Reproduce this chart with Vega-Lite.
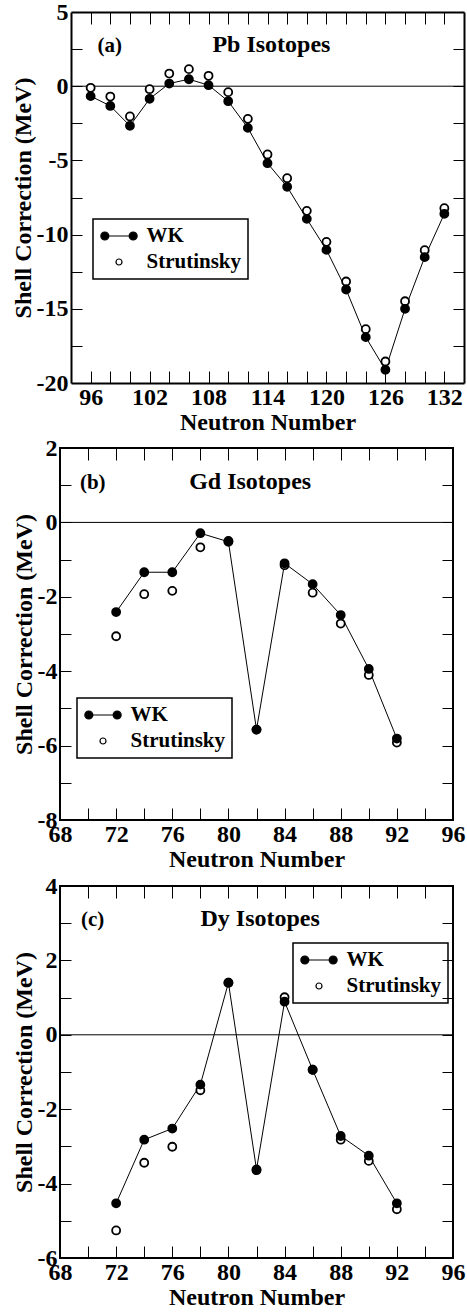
{
  "$schema": "https://vega.github.io/schema/vega-lite/v6.json",
  "padding": {"left": 11, "top": 0, "right": 0, "bottom": 0},
  "background": "white",
  "config": {
    "font": "Liberation Serif",
    "view": {"stroke": "black", "strokeWidth": 2},
    "axis": {
      "domain": false,
      "domainColor": "black",
      "domainWidth": 2,
      "grid": false,
      "labelFont": "Liberation Serif",
      "labelFontSize": 24,
      "labelFontWeight": "bold",
      "labelColor": "black",
      "labelFlush": false,
      "labelOverlap": false,
      "labelBound": false,
      "titleFont": "Liberation Serif",
      "titleFontSize": 24,
      "titleFontWeight": "bold",
      "titleColor": "black",
      "titlePadding": 1
    },
    "legend": {
      "orient": "none",
      "padding": 6.5,
      "strokeColor": "black",
      "strokeWidth": 1.5,
      "labelFont": "Liberation Serif",
      "labelFontSize": 21,
      "labelFontWeight": "bold",
      "labelColor": "black",
      "symbolSize": 64,
      "rowPadding": 4
    }
  },
  "data": {
    "values": [
      {"iso": "Pb", "n": 96, "series": "Strutinsky", "v": -0.11},
      {"iso": "Pb", "n": 98, "series": "Strutinsky", "v": -0.7},
      {"iso": "Pb", "n": 100, "series": "Strutinsky", "v": -2.04},
      {"iso": "Pb", "n": 102, "series": "Strutinsky", "v": -0.2},
      {"iso": "Pb", "n": 104, "series": "Strutinsky", "v": 0.85},
      {"iso": "Pb", "n": 106, "series": "Strutinsky", "v": 1.15},
      {"iso": "Pb", "n": 108, "series": "Strutinsky", "v": 0.7},
      {"iso": "Pb", "n": 110, "series": "Strutinsky", "v": -0.4},
      {"iso": "Pb", "n": 112, "series": "Strutinsky", "v": -2.2},
      {"iso": "Pb", "n": 114, "series": "Strutinsky", "v": -4.6},
      {"iso": "Pb", "n": 116, "series": "Strutinsky", "v": -6.2},
      {"iso": "Pb", "n": 118, "series": "Strutinsky", "v": -8.4},
      {"iso": "Pb", "n": 120, "series": "Strutinsky", "v": -10.49},
      {"iso": "Pb", "n": 122, "series": "Strutinsky", "v": -13.16},
      {"iso": "Pb", "n": 124, "series": "Strutinsky", "v": -16.37},
      {"iso": "Pb", "n": 126, "series": "Strutinsky", "v": -18.55},
      {"iso": "Pb", "n": 128, "series": "Strutinsky", "v": -14.49},
      {"iso": "Pb", "n": 130, "series": "Strutinsky", "v": -11.05},
      {"iso": "Pb", "n": 132, "series": "Strutinsky", "v": -8.22},
      {"iso": "Pb", "n": 96, "series": "WK", "v": -0.67},
      {"iso": "Pb", "n": 98, "series": "WK", "v": -1.33},
      {"iso": "Pb", "n": 100, "series": "WK", "v": -2.67},
      {"iso": "Pb", "n": 102, "series": "WK", "v": -0.85},
      {"iso": "Pb", "n": 104, "series": "WK", "v": 0.18},
      {"iso": "Pb", "n": 106, "series": "WK", "v": 0.47},
      {"iso": "Pb", "n": 108, "series": "WK", "v": 0.07},
      {"iso": "Pb", "n": 110, "series": "WK", "v": -1.01},
      {"iso": "Pb", "n": 112, "series": "WK", "v": -2.81},
      {"iso": "Pb", "n": 114, "series": "WK", "v": -5.19},
      {"iso": "Pb", "n": 116, "series": "WK", "v": -6.78},
      {"iso": "Pb", "n": 118, "series": "WK", "v": -8.94},
      {"iso": "Pb", "n": 120, "series": "WK", "v": -11.03},
      {"iso": "Pb", "n": 122, "series": "WK", "v": -13.7},
      {"iso": "Pb", "n": 124, "series": "WK", "v": -16.91},
      {"iso": "Pb", "n": 126, "series": "WK", "v": -19.11},
      {"iso": "Pb", "n": 128, "series": "WK", "v": -15.0},
      {"iso": "Pb", "n": 130, "series": "WK", "v": -11.52},
      {"iso": "Pb", "n": 132, "series": "WK", "v": -8.6},
      {"iso": "Gd", "n": 72, "series": "Strutinsky", "v": -3.06},
      {"iso": "Gd", "n": 74, "series": "Strutinsky", "v": -1.93},
      {"iso": "Gd", "n": 76, "series": "Strutinsky", "v": -1.84},
      {"iso": "Gd", "n": 78, "series": "Strutinsky", "v": -0.67},
      {"iso": "Gd", "n": 80, "series": "Strutinsky", "v": -0.5},
      {"iso": "Gd", "n": 82, "series": "Strutinsky", "v": -5.57},
      {"iso": "Gd", "n": 84, "series": "Strutinsky", "v": -1.15},
      {"iso": "Gd", "n": 86, "series": "Strutinsky", "v": -1.89},
      {"iso": "Gd", "n": 88, "series": "Strutinsky", "v": -2.72},
      {"iso": "Gd", "n": 90, "series": "Strutinsky", "v": -4.1},
      {"iso": "Gd", "n": 92, "series": "Strutinsky", "v": -5.92},
      {"iso": "Gd", "n": 72, "series": "WK", "v": -2.41},
      {"iso": "Gd", "n": 74, "series": "WK", "v": -1.34},
      {"iso": "Gd", "n": 76, "series": "WK", "v": -1.34},
      {"iso": "Gd", "n": 78, "series": "WK", "v": -0.29},
      {"iso": "Gd", "n": 80, "series": "WK", "v": -0.52},
      {"iso": "Gd", "n": 82, "series": "WK", "v": -5.57},
      {"iso": "Gd", "n": 84, "series": "WK", "v": -1.1},
      {"iso": "Gd", "n": 86, "series": "WK", "v": -1.66},
      {"iso": "Gd", "n": 88, "series": "WK", "v": -2.49},
      {"iso": "Gd", "n": 90, "series": "WK", "v": -3.94},
      {"iso": "Gd", "n": 92, "series": "WK", "v": -5.81},
      {"iso": "Dy", "n": 72, "series": "Strutinsky", "v": -5.26},
      {"iso": "Dy", "n": 74, "series": "Strutinsky", "v": -3.44},
      {"iso": "Dy", "n": 76, "series": "Strutinsky", "v": -3.01},
      {"iso": "Dy", "n": 78, "series": "Strutinsky", "v": -1.49},
      {"iso": "Dy", "n": 80, "series": "Strutinsky", "v": 1.4},
      {"iso": "Dy", "n": 82, "series": "Strutinsky", "v": -3.64},
      {"iso": "Dy", "n": 84, "series": "Strutinsky", "v": 1.01},
      {"iso": "Dy", "n": 86, "series": "Strutinsky", "v": -0.94},
      {"iso": "Dy", "n": 88, "series": "Strutinsky", "v": -2.82},
      {"iso": "Dy", "n": 90, "series": "Strutinsky", "v": -3.39},
      {"iso": "Dy", "n": 92, "series": "Strutinsky", "v": -4.69},
      {"iso": "Dy", "n": 72, "series": "WK", "v": -4.53},
      {"iso": "Dy", "n": 74, "series": "WK", "v": -2.82},
      {"iso": "Dy", "n": 76, "series": "WK", "v": -2.52},
      {"iso": "Dy", "n": 78, "series": "WK", "v": -1.34},
      {"iso": "Dy", "n": 80, "series": "WK", "v": 1.4},
      {"iso": "Dy", "n": 82, "series": "WK", "v": -3.62},
      {"iso": "Dy", "n": 84, "series": "WK", "v": 0.89},
      {"iso": "Dy", "n": 86, "series": "WK", "v": -0.94},
      {"iso": "Dy", "n": 88, "series": "WK", "v": -2.72},
      {"iso": "Dy", "n": 90, "series": "WK", "v": -3.25},
      {"iso": "Dy", "n": 92, "series": "WK", "v": -4.53}
    ]
  },
  "bounds": "full",
  "spacing": 1,
  "resolve": {"scale": {"fill": "independent"}, "legend": {"fill": "independent"}},
  "vconcat": [
    {
      "width": 404,
      "height": 371,
      "view": {"stroke": null},
      "resolve": {"axis": {"x": "independent", "y": "independent"}},
      "layer": [
        {
          "data": {"values": [{}]},
          "mark": {"type": "rule", "color": "black", "strokeWidth": 1},
          "encoding": {
            "x": {"datum": 94, "type": "quantitative", "scale": {"domain": [94, 134], "range": [11, 404], "nice": false, "zero": false},
                  "axis": {"orient": "top", "offset": -371, "labels": false, "title": null, "ticks": true, "tickSize": 12, "tickColor": "black", "tickWidth": 1, "tickOpacity": 1,
                           "values": [96, 98, 100, 102, 104, 106, 108, 110, 112, 114, 116, 118, 120, 122, 124, 126, 128, 130, 132]}},
            "x2": {"datum": 134},
            "y": {"datum": 0, "type": "quantitative", "scale": {"domain": [-20, 5], "nice": false, "zero": false},
                  "axis": {"orient": "right", "offset": -393, "labels": false, "title": null, "ticks": true, "tickSize": 11, "tickColor": "black", "tickWidth": 1, "tickOpacity": 1,
                           "values": [-17.5, -15, -12.5, -10, -7.5, -5, -2.5, 0, 2.5]}}
          }
        },
        {
          "transform": [{"filter": "datum.iso === 'Pb' && datum.series === 'WK'"}],
          "mark": {"type": "line", "color": "black", "strokeWidth": 1},
          "encoding": {
            "x": {"field": "n", "type": "quantitative", "title": "Neutron Number",
                  "axis": {"orient": "bottom", "ticks": false, "domain": true, "labelPadding": 2, "values": [96, 102, 108, 114, 120, 126, 132],
                           "labelExpr": "'' + datum.value"}},
            "y": {"field": "v", "type": "quantitative", "title": "Shell Correction (MeV)",
                  "axis": {"orient": "left", "offset": -11, "ticks": false, "domain": true, "labelPadding": 3, "values": [-20, -15, -10, -5, 0, 5],
                           "labelExpr": "'' + datum.value"}}
          }
        },
        {
          "transform": [{"filter": "datum.iso === 'Pb'"}],
          "mark": {"type": "point", "shape": "circle", "filled": true, "size": 64, "stroke": "black", "strokeWidth": 1.8, "opacity": 1},
          "encoding": {
            "x": {"field": "n", "type": "quantitative",
                  "axis": {"orient": "bottom", "offset": -371, "domain": true, "labels": false, "title": null, "ticks": true, "tickSize": 12, "tickColor": "black", "tickWidth": 1, "tickOpacity": 1,
                           "values": [96, 98, 100, 102, 104, 106, 108, 110, 112, 114, 116, 118, 120, 122, 124, 126, 128, 130, 132]}},
            "y": {"field": "v", "type": "quantitative",
                  "axis": {"orient": "left", "offset": -404, "domain": true, "labels": false, "title": null, "ticks": true, "tickSize": 11, "tickColor": "black", "tickWidth": 1, "tickOpacity": 1,
                           "values": [-17.5, -15, -12.5, -10, -7.5, -5, -2.5, 0, 2.5]}},
            "fill": {"field": "series", "type": "nominal",
                     "scale": {"domain": ["WK", "Strutinsky"], "range": ["black", "white"]},
                     "legend": {"title": null, "legendX": 33, "legendY": 207, "strokeColor": "black",
                                "symbolOffset": 9, "labelOffset": 17,
                                "symbolStrokeColor": "black", "symbolStrokeWidth": 1.2,
                                "symbolType": {"expr": "datum.value === 'WK' ? 'M-3.54,0L3.54,0M-2.54,0A1,1 0 1,1 -4.54,0A1,1 0 1,1 -2.54,0ZM4.54,0A1,1 0 1,1 2.54,0A1,1 0 1,1 4.54,0Z' : 'M0.75,0A0.75,0.75 0 1,1 -0.75,0A0.75,0.75 0 1,1 0.75,0Z'"}}}
          }
        },
        {
          "data": {"values": [{"label": "(a)"}]},
          "mark": {"type": "text", "fontSize": 21, "fontWeight": "bold", "font": "Liberation Serif", "align": "left", "baseline": "alphabetic", "color": "black"},
          "encoding": {
            "x": {"datum": 96.7, "type": "quantitative", "axis": null},
            "y": {"datum": 2.3, "type": "quantitative", "axis": null},
            "text": {"field": "label"}
          }
        },
        {
          "data": {"values": [{"label": "Pb Isotopes"}]},
          "mark": {"type": "text", "fontSize": 24, "fontWeight": "bold", "font": "Liberation Serif", "align": "center", "baseline": "alphabetic", "color": "black"},
          "encoding": {
            "x": {"datum": 114.4, "type": "quantitative", "axis": null},
            "y": {"datum": 2.3, "type": "quantitative", "axis": null},
            "text": {"field": "label"}
          }
        }
      ]
    },
    {
      "width": 393,
      "height": 372,
      "resolve": {"axis": {"x": "independent", "y": "independent"}},
      "layer": [
        {
          "data": {"values": [{}]},
          "mark": {"type": "rule", "color": "black", "strokeWidth": 1},
          "encoding": {
            "x": {"datum": 68, "type": "quantitative", "scale": {"domain": [68, 96], "nice": false, "zero": false},
                  "axis": {"orient": "top", "offset": -372, "labels": false, "title": null, "ticks": true, "tickSize": 12, "tickColor": "black", "tickWidth": 1, "tickOpacity": 1,
                           "values": [70, 72, 74, 76, 78, 80, 82, 84, 86, 88, 90, 92, 94]}},
            "x2": {"datum": 96},
            "y": {"datum": 0, "type": "quantitative", "scale": {"domain": [-8, 2], "nice": false, "zero": false},
                  "axis": {"orient": "right", "offset": -393, "labels": false, "title": null, "ticks": true, "tickSize": 11, "tickColor": "black", "tickWidth": 1, "tickOpacity": 1,
                           "values": [-7, -6, -5, -4, -3, -2, -1, 0, 1]}}
          }
        },
        {
          "transform": [{"filter": "datum.iso === 'Gd' && datum.series === 'WK'"}],
          "mark": {"type": "line", "color": "black", "strokeWidth": 1},
          "encoding": {
            "x": {"field": "n", "type": "quantitative", "title": "Neutron Number",
                  "axis": {"orient": "bottom", "ticks": false, "labelPadding": 2, "values": [68, 72, 76, 80, 84, 88, 92, 96],
                           "labelExpr": "'' + datum.value"}},
            "y": {"field": "v", "type": "quantitative", "title": "Shell Correction (MeV)",
                  "axis": {"orient": "left", "ticks": false, "labelPadding": 3, "values": [-8, -6, -4, -2, 0, 2],
                           "labelExpr": "'' + datum.value"}}
          }
        },
        {
          "transform": [{"filter": "datum.iso === 'Gd'"}],
          "mark": {"type": "point", "shape": "circle", "filled": true, "size": 64, "stroke": "black", "strokeWidth": 1.8, "opacity": 1},
          "encoding": {
            "x": {"field": "n", "type": "quantitative",
                  "axis": {"orient": "bottom", "offset": -372, "labels": false, "title": null, "ticks": true, "tickSize": 12, "tickColor": "black", "tickWidth": 1, "tickOpacity": 1,
                           "values": [70, 72, 74, 76, 78, 80, 82, 84, 86, 88, 90, 92, 94]}},
            "y": {"field": "v", "type": "quantitative",
                  "axis": {"orient": "left", "offset": -393, "labels": false, "title": null, "ticks": true, "tickSize": 11, "tickColor": "black", "tickWidth": 1, "tickOpacity": 1,
                           "values": [-7, -6, -5, -4, -3, -2, -1, 0, 1]}},
            "fill": {"field": "series", "type": "nominal",
                     "scale": {"domain": ["WK", "Strutinsky"], "range": ["black", "white"]},
                     "legend": {"title": null, "legendX": 17, "legendY": 250, "strokeColor": "black",
                                "symbolOffset": 9, "labelOffset": 17,
                                "symbolStrokeColor": "black", "symbolStrokeWidth": 1.2,
                                "symbolType": {"expr": "datum.value === 'WK' ? 'M-3.54,0L3.54,0M-2.54,0A1,1 0 1,1 -4.54,0A1,1 0 1,1 -2.54,0ZM4.54,0A1,1 0 1,1 2.54,0A1,1 0 1,1 4.54,0Z' : 'M0.75,0A0.75,0.75 0 1,1 -0.75,0A0.75,0.75 0 1,1 0.75,0Z'"}}}
          }
        },
        {
          "data": {"values": [{"label": "(b)"}]},
          "mark": {"type": "text", "fontSize": 21, "fontWeight": "bold", "font": "Liberation Serif", "align": "left", "baseline": "alphabetic", "color": "black"},
          "encoding": {
            "x": {"datum": 69.42, "type": "quantitative", "axis": null},
            "y": {"datum": 0.91, "type": "quantitative", "axis": null},
            "text": {"field": "label"}
          }
        },
        {
          "data": {"values": [{"label": "Gd Isotopes"}]},
          "mark": {"type": "text", "fontSize": 24, "fontWeight": "bold", "font": "Liberation Serif", "align": "center", "baseline": "alphabetic", "color": "black"},
          "encoding": {
            "x": {"datum": 81.55, "type": "quantitative", "axis": null},
            "y": {"datum": 0.91, "type": "quantitative", "axis": null},
            "text": {"field": "label"}
          }
        }
      ]
    },
    {
      "width": 393,
      "height": 372,
      "resolve": {"axis": {"x": "independent", "y": "independent"}},
      "layer": [
        {
          "data": {"values": [{}]},
          "mark": {"type": "rule", "color": "black", "strokeWidth": 1},
          "encoding": {
            "x": {"datum": 68, "type": "quantitative", "scale": {"domain": [68, 96], "nice": false, "zero": false},
                  "axis": {"orient": "top", "offset": -372, "labels": false, "title": null, "ticks": true, "tickSize": 12, "tickColor": "black", "tickWidth": 1, "tickOpacity": 1,
                           "values": [70, 72, 74, 76, 78, 80, 82, 84, 86, 88, 90, 92, 94]}},
            "x2": {"datum": 96},
            "y": {"datum": 0, "type": "quantitative", "scale": {"domain": [-6, 4], "nice": false, "zero": false},
                  "axis": {"orient": "right", "offset": -393, "labels": false, "title": null, "ticks": true, "tickSize": 11, "tickColor": "black", "tickWidth": 1, "tickOpacity": 1,
                           "values": [-5, -4, -3, -2, -1, 0, 1, 2, 3]}}
          }
        },
        {
          "transform": [{"filter": "datum.iso === 'Dy' && datum.series === 'WK'"}],
          "mark": {"type": "line", "color": "black", "strokeWidth": 1},
          "encoding": {
            "x": {"field": "n", "type": "quantitative", "title": "Neutron Number",
                  "axis": {"orient": "bottom", "ticks": false, "labelPadding": 2, "values": [68, 72, 76, 80, 84, 88, 92, 96],
                           "labelExpr": "'' + datum.value"}},
            "y": {"field": "v", "type": "quantitative", "title": "Shell Correction (MeV)",
                  "axis": {"orient": "left", "ticks": false, "labelPadding": 3, "values": [-6, -4, -2, 0, 2, 4],
                           "labelExpr": "'' + datum.value"}}
          }
        },
        {
          "transform": [{"filter": "datum.iso === 'Dy'"}],
          "mark": {"type": "point", "shape": "circle", "filled": true, "size": 64, "stroke": "black", "strokeWidth": 1.8, "opacity": 1},
          "encoding": {
            "x": {"field": "n", "type": "quantitative",
                  "axis": {"orient": "bottom", "offset": -372, "labels": false, "title": null, "ticks": true, "tickSize": 12, "tickColor": "black", "tickWidth": 1, "tickOpacity": 1,
                           "values": [70, 72, 74, 76, 78, 80, 82, 84, 86, 88, 90, 92, 94]}},
            "y": {"field": "v", "type": "quantitative",
                  "axis": {"orient": "left", "offset": -393, "labels": false, "title": null, "ticks": true, "tickSize": 11, "tickColor": "black", "tickWidth": 1, "tickOpacity": 1,
                           "values": [-5, -4, -3, -2, -1, 0, 1, 2, 3]}},
            "fill": {"field": "series", "type": "nominal",
                     "scale": {"domain": ["WK", "Strutinsky"], "range": ["black", "white"]},
                     "legend": {"title": null, "legendX": 233, "legendY": 57, "strokeColor": "black",
                                "symbolOffset": 9, "labelOffset": 17,
                                "symbolStrokeColor": "black", "symbolStrokeWidth": 1.2,
                                "symbolType": {"expr": "datum.value === 'WK' ? 'M-3.54,0L3.54,0M-2.54,0A1,1 0 1,1 -4.54,0A1,1 0 1,1 -2.54,0ZM4.54,0A1,1 0 1,1 2.54,0A1,1 0 1,1 4.54,0Z' : 'M0.75,0A0.75,0.75 0 1,1 -0.75,0A0.75,0.75 0 1,1 0.75,0Z'"}}}
          }
        },
        {
          "data": {"values": [{"label": "(c)"}]},
          "mark": {"type": "text", "fontSize": 21, "fontWeight": "bold", "font": "Liberation Serif", "align": "left", "baseline": "alphabetic", "color": "black"},
          "encoding": {
            "x": {"datum": 69.5, "type": "quantitative", "axis": null},
            "y": {"datum": 2.93, "type": "quantitative", "axis": null},
            "text": {"field": "label"}
          }
        },
        {
          "data": {"values": [{"label": "Dy Isotopes"}]},
          "mark": {"type": "text", "fontSize": 24, "fontWeight": "bold", "font": "Liberation Serif", "align": "center", "baseline": "alphabetic", "color": "black"},
          "encoding": {
            "x": {"datum": 82.26, "type": "quantitative", "axis": null},
            "y": {"datum": 2.93, "type": "quantitative", "axis": null},
            "text": {"field": "label"}
          }
        }
      ]
    }
  ]
}
